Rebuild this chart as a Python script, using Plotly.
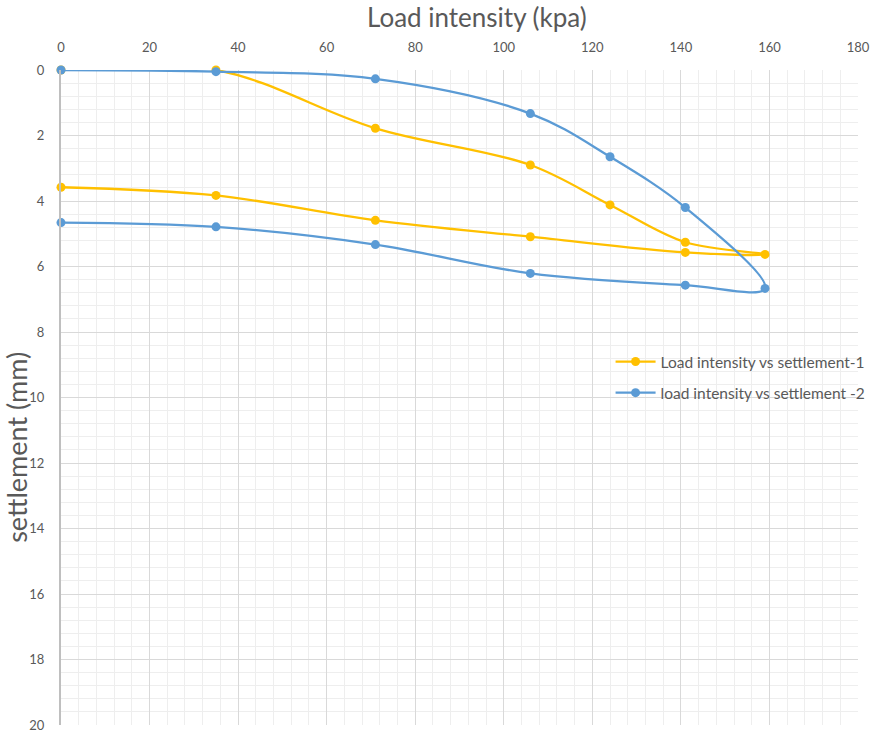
import plotly.graph_objects as go

# Load intensity (kPa): loading path then unloading path
load_1 = [0, 35, 71, 106, 124, 141, 159, 141, 106, 71, 35, 0]
settle_1 = [0, 0.0, 1.78, 2.90, 4.12, 5.26, 5.63, 5.57, 5.09, 4.59, 3.83, 3.58]

load_2 = [0, 35, 71, 106, 124, 141, 159, 141, 106, 71, 35, 0]
settle_2 = [0, 0.05, 0.27, 1.33, 2.65, 4.20, 6.67, 6.57, 6.21, 5.33, 4.79, 4.66]

name_1 = "Load intensity vs settlement-1"
name_2 = "load intensity vs settlement -2"

ORANGE = "#FFC000"
BLUE = "#5B9BD5"
TEXT = "#595959"
FONT = "Lato, Open Sans, sans-serif"

fig = go.Figure()
fig.add_trace(go.Scatter(
    x=load_1, y=settle_1, name=name_1, mode="lines+markers",
    line=dict(color=ORANGE, width=2.3, shape="spline", smoothing=1.0),
    marker=dict(color=ORANGE, size=9),
    legendgroup="a", cliponaxis=False,
))
fig.add_trace(go.Scatter(
    x=load_2, y=settle_2, name=name_2, mode="lines+markers",
    line=dict(color=BLUE, width=2.3, shape="spline", smoothing=1.0),
    marker=dict(color=BLUE, size=9),
    legendgroup="b", cliponaxis=False,
))

fig.update_layout(
    width=876, height=736,
    margin=dict(l=61, r=18, t=70, b=11, autoexpand=False),
    paper_bgcolor="white", plot_bgcolor="white",
    font=dict(family=FONT, color=TEXT, size=12),
    showlegend=True,
    legend=dict(
        xref="container", yref="container",
        x=0.697, y=0.5313, xanchor="left", yanchor="top",
        bgcolor="rgba(0,0,0,0)", font=dict(size=15.5, color=TEXT),
        tracegroupgap=8, traceorder="grouped",
        itemwidth=40,
    ),
    xaxis=dict(
        side="top", range=[0, 180], tick0=0, dtick=20,
        showgrid=True, gridcolor="#d9d9d9", gridwidth=1,
        minor=dict(dtick=4, showgrid=True, gridcolor="#eeeeee", gridwidth=1),
        zeroline=False, showline=False, ticks="",
        ticklabelstandoff=14, automargin=False,
        tickfont=dict(size=13, color=TEXT),
    ),
    yaxis=dict(
        range=[20, 0], tick0=0, dtick=2,
        showgrid=True, gridcolor="#d9d9d9", gridwidth=1,
        minor=dict(dtick=0.4, showgrid=True, gridcolor="#eeeeee", gridwidth=1),
        zeroline=False, showline=True, linecolor="#bfbfbf", linewidth=2,
        ticks="", ticklabelstandoff=12, automargin=False,
        tickfont=dict(size=13, color=TEXT),
    ),
    annotations=[
        dict(
            text="Load intensity (kpa)",
            xref="paper", yref="paper", x=0.522, y=1.0809,
            xanchor="center", yanchor="middle", showarrow=False,
            font=dict(size=26, color=TEXT),
        ),
        dict(
            text="settlement (mm)", textangle=-90,
            xref="paper", yref="paper", x=-0.056, y=0.4237,
            xanchor="center", yanchor="middle", showarrow=False,
            font=dict(size=27, color=TEXT),
        ),
    ],
)

fig.write_html("out.html")
